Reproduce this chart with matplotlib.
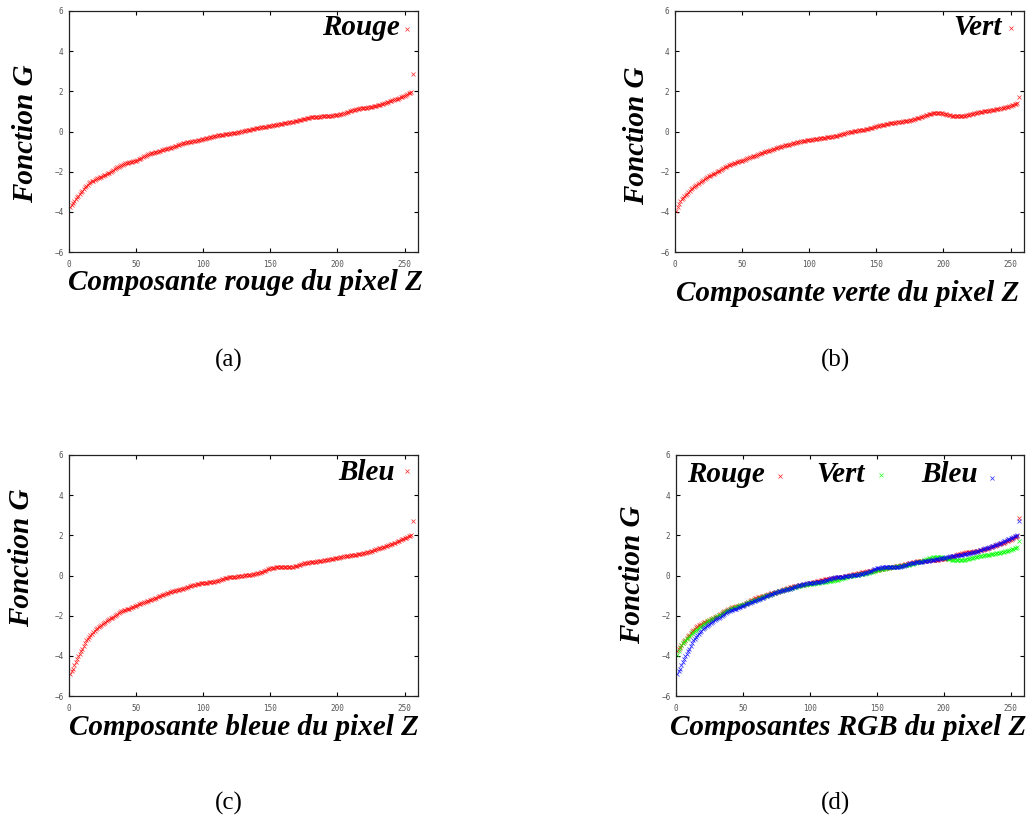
import numpy as np
import matplotlib
matplotlib.use('Agg')
import matplotlib.pyplot as plt

# ============ DATA ============
# pixel values 1..256 (the last one is the isolated point at the right edge)
x_vals = list(range(1, 257))

g_rouge = [
    -3.74, -3.64, -3.55, -3.45, -3.36, -3.27, -3.19, -3.10, -3.02, -2.94,
    -2.86, -2.78, -2.71, -2.64, -2.57, -2.52, -2.48, -2.44, -2.40, -2.36,
    -2.33, -2.30, -2.28, -2.25, -2.23, -2.19, -2.16, -2.12, -2.09, -2.05,
    -2.01, -1.96, -1.92, -1.87, -1.83, -1.79, -1.75, -1.71, -1.68, -1.65,
    -1.62, -1.59, -1.57, -1.55, -1.53, -1.51, -1.50, -1.48, -1.47, -1.45,
    -1.42, -1.38, -1.35, -1.31, -1.28, -1.24, -1.21, -1.17, -1.14, -1.11,
    -1.09, -1.07, -1.06, -1.04, -1.03, -1.00, -0.98, -0.95, -0.93, -0.91,
    -0.89, -0.87, -0.86, -0.84, -0.83, -0.80, -0.78, -0.75, -0.73, -0.71,
    -0.68, -0.66, -0.63, -0.61, -0.58, -0.56, -0.55, -0.53, -0.52, -0.51,
    -0.50, -0.48, -0.47, -0.46, -0.45, -0.43, -0.42, -0.40, -0.39, -0.37,
    -0.35, -0.33, -0.32, -0.30, -0.28, -0.26, -0.25, -0.23, -0.21, -0.20,
    -0.19, -0.18, -0.17, -0.16, -0.15, -0.14, -0.13, -0.12, -0.11, -0.10,
    -0.09, -0.08, -0.07, -0.06, -0.05, -0.03, -0.02, 0.00, 0.01, 0.02,
    0.03, 0.05, 0.06, 0.07, 0.08, 0.10, 0.12, 0.14, 0.15, 0.17,
    0.18, 0.19, 0.20, 0.21, 0.22, 0.23, 0.24, 0.25, 0.26, 0.27,
    0.28, 0.30, 0.31, 0.32, 0.33, 0.35, 0.36, 0.38, 0.39, 0.40,
    0.41, 0.43, 0.44, 0.46, 0.47, 0.48, 0.49, 0.51, 0.52, 0.53,
    0.55, 0.57, 0.58, 0.60, 0.61, 0.63, 0.65, 0.67, 0.68, 0.70,
    0.71, 0.72, 0.72, 0.73, 0.73, 0.74, 0.74, 0.75, 0.75, 0.75,
    0.76, 0.77, 0.77, 0.78, 0.78, 0.79, 0.80, 0.81, 0.82, 0.83,
    0.84, 0.86, 0.87, 0.88, 0.90, 0.92, 0.95, 0.98, 1.00, 1.03,
    1.05, 1.07, 1.09, 1.11, 1.13, 1.14, 1.15, 1.16, 1.17, 1.18,
    1.19, 1.19, 1.20, 1.21, 1.21, 1.23, 1.25, 1.26, 1.28, 1.30,
    1.32, 1.34, 1.36, 1.38, 1.41, 1.43, 1.46, 1.48, 1.51, 1.53,
    1.55, 1.57, 1.60, 1.62, 1.64, 1.67, 1.70, 1.73, 1.76, 1.79,
    1.82, 1.86, 1.90, 1.94, 1.98, 2.85]

g_vert = [
    -3.97, -3.78, -3.60, -3.47, -3.36, -3.29, -3.22, -3.15, -3.09, -3.02,
    -2.95, -2.88, -2.82, -2.75, -2.69, -2.64, -2.59, -2.54, -2.49, -2.44,
    -2.40, -2.36, -2.32, -2.28, -2.24, -2.20, -2.17, -2.14, -2.11, -2.08,
    -2.04, -1.99, -1.95, -1.90, -1.86, -1.82, -1.79, -1.75, -1.72, -1.69,
    -1.66, -1.63, -1.61, -1.58, -1.56, -1.54, -1.52, -1.49, -1.47, -1.45,
    -1.42, -1.40, -1.37, -1.34, -1.31, -1.29, -1.27, -1.24, -1.22, -1.20,
    -1.17, -1.14, -1.11, -1.08, -1.06, -1.04, -1.02, -0.99, -0.97, -0.95,
    -0.93, -0.90, -0.88, -0.85, -0.83, -0.81, -0.79, -0.77, -0.75, -0.73,
    -0.71, -0.69, -0.68, -0.66, -0.65, -0.63, -0.61, -0.59, -0.58, -0.56,
    -0.54, -0.52, -0.51, -0.49, -0.48, -0.47, -0.46, -0.44, -0.43, -0.42,
    -0.41, -0.40, -0.39, -0.38, -0.37, -0.36, -0.35, -0.34, -0.33, -0.32,
    -0.31, -0.30, -0.29, -0.28, -0.27, -0.26, -0.25, -0.24, -0.23, -0.22,
    -0.20, -0.18, -0.16, -0.14, -0.12, -0.10, -0.08, -0.06, -0.04, -0.02,
    -0.01, 0.00, 0.01, 0.02, 0.03, 0.04, 0.05, 0.06, 0.07, 0.08,
    0.09, 0.10, 0.12, 0.13, 0.15, 0.17, 0.19, 0.21, 0.23, 0.25,
    0.27, 0.28, 0.30, 0.31, 0.33, 0.34, 0.36, 0.37, 0.39, 0.40,
    0.41, 0.42, 0.43, 0.44, 0.45, 0.46, 0.47, 0.48, 0.49, 0.50,
    0.51, 0.52, 0.53, 0.54, 0.55, 0.57, 0.59, 0.61, 0.63, 0.65,
    0.67, 0.69, 0.71, 0.73, 0.76, 0.78, 0.81, 0.83, 0.86, 0.88,
    0.89, 0.91, 0.92, 0.93, 0.93, 0.93, 0.92, 0.91, 0.90, 0.88,
    0.86, 0.85, 0.83, 0.81, 0.80, 0.79, 0.78, 0.77, 0.76, 0.76,
    0.76, 0.76, 0.77, 0.77, 0.78, 0.79, 0.81, 0.82, 0.84, 0.86,
    0.87, 0.89, 0.90, 0.92, 0.93, 0.95, 0.96, 0.98, 0.99, 1.00,
    1.01, 1.02, 1.03, 1.04, 1.05, 1.06, 1.07, 1.08, 1.10, 1.11,
    1.12, 1.13, 1.15, 1.16, 1.18, 1.20, 1.22, 1.24, 1.26, 1.28,
    1.31, 1.33, 1.36, 1.39, 1.43, 1.72]

g_bleu = [
    -4.89, -4.77, -4.64, -4.47, -4.30, -4.16, -4.02, -3.89, -3.77, -3.64,
    -3.50, -3.36, -3.22, -3.14, -3.06, -2.97, -2.89, -2.81, -2.74, -2.68,
    -2.63, -2.58, -2.53, -2.48, -2.43, -2.38, -2.33, -2.28, -2.24, -2.19,
    -2.14, -2.10, -2.05, -2.01, -1.96, -1.91, -1.87, -1.83, -1.79, -1.76,
    -1.74, -1.71, -1.69, -1.67, -1.65, -1.62, -1.59, -1.56, -1.53, -1.50,
    -1.47, -1.44, -1.41, -1.39, -1.36, -1.33, -1.31, -1.28, -1.26, -1.23,
    -1.20, -1.18, -1.15, -1.13, -1.10, -1.07, -1.04, -1.01, -0.98, -0.95,
    -0.93, -0.90, -0.88, -0.85, -0.83, -0.81, -0.79, -0.77, -0.75, -0.73,
    -0.71, -0.70, -0.68, -0.67, -0.65, -0.62, -0.60, -0.57, -0.55, -0.53,
    -0.51, -0.49, -0.47, -0.45, -0.43, -0.42, -0.41, -0.39, -0.38, -0.37,
    -0.36, -0.35, -0.35, -0.34, -0.33, -0.32, -0.31, -0.30, -0.29, -0.27,
    -0.25, -0.22, -0.20, -0.17, -0.15, -0.13, -0.12, -0.10, -0.09, -0.08,
    -0.07, -0.06, -0.06, -0.05, -0.05, -0.04, -0.03, -0.02, -0.01, 0.00,
    0.01, 0.01, 0.02, 0.02, 0.03, 0.04, 0.06, 0.07, 0.08, 0.10,
    0.12, 0.14, 0.17, 0.19, 0.22, 0.24, 0.27, 0.30, 0.32, 0.35,
    0.36, 0.38, 0.39, 0.41, 0.42, 0.42, 0.43, 0.43, 0.43, 0.43,
    0.43, 0.42, 0.42, 0.42, 0.42, 0.43, 0.44, 0.45, 0.46, 0.48,
    0.51, 0.53, 0.56, 0.58, 0.60, 0.62, 0.63, 0.64, 0.65, 0.66,
    0.67, 0.68, 0.68, 0.69, 0.70, 0.71, 0.72, 0.73, 0.74, 0.75,
    0.76, 0.77, 0.79, 0.80, 0.81, 0.82, 0.84, 0.85, 0.87, 0.88,
    0.89, 0.91, 0.92, 0.94, 0.95, 0.96, 0.97, 0.98, 0.99, 1.00,
    1.01, 1.02, 1.03, 1.04, 1.05, 1.06, 1.07, 1.08, 1.10, 1.11,
    1.13, 1.15, 1.17, 1.19, 1.21, 1.23, 1.26, 1.28, 1.31, 1.33,
    1.35, 1.37, 1.39, 1.41, 1.43, 1.45, 1.48, 1.50, 1.53, 1.55,
    1.58, 1.61, 1.64, 1.67, 1.70, 1.73, 1.76, 1.80, 1.83, 1.86,
    1.89, 1.92, 1.95, 1.98, 2.00, 2.72]

x_ticks = [0, 50, 100, 150, 200, 250]
y_ticks = [-6, -4, -2, 0, 2, 4, 6]

# ============ STYLE ============
W, H = 1033, 819
serif_bi = dict(family='Liberation Serif', weight='bold', style='italic')
ms, mew = 2.4, 0.55


def px_axes(fig, left, top, right, bottom):
    return fig.add_axes([left / W, 1 - bottom / H, (right - left) / W, (bottom - top) / H])


def style_axes(ax):
    ax.set_xlim(0, 260)
    ax.set_ylim(-6, 6)
    ax.set_xticks(x_ticks)
    ax.set_yticks(y_ticks)
    ax.tick_params(direction='in', length=3, width=0.8, top=True, right=True,
                   labelsize=5.5, labelcolor='#555555', pad=4)
    ax.tick_params(axis='x', pad=6)
    for lab in ax.get_xticklabels() + ax.get_yticklabels():
        lab.set_family('DejaVu Sans Mono')
    for sp in ax.spines.values():
        sp.set_linewidth(0.9)
        sp.set_color('#222222')


def plot_series(ax, yv, color):
    ax.plot(x_vals, yv, linestyle='none', marker='x',
            ms=ms, mew=mew, color=color, alpha=0.8)


def key(ax, label, tx, mx, ty, my, color):
    ax.text(tx, ty, label, transform=ax.transAxes, ha='right', va='baseline',
            fontsize=21, **serif_bi)
    ax.plot([mx], [my], transform=ax.transAxes, marker='x', ms=ms, mew=mew,
            color=color, linestyle='none', clip_on=False, alpha=0.8)


fig = plt.figure(figsize=(W / 100, H / 100), dpi=100)

# (a)
ax_a = px_axes(fig, 69, 11, 418, 252)
plot_series(ax_a, g_rouge, 'red')
key(ax_a, 'Rouge', 0.948, 0.968, 0.900, 0.927, 'red')
style_axes(ax_a)

# (b)
ax_b = px_axes(fig, 675, 11, 1024, 252)
plot_series(ax_b, g_vert, 'red')
key(ax_b, 'Vert', 0.937, 0.963, 0.900, 0.930, 'red')
style_axes(ax_b)

# (c)
ax_c = px_axes(fig, 69, 455, 418, 696)
plot_series(ax_c, g_bleu, 'red')
key(ax_c, 'Bleu', 0.934, 0.969, 0.896, 0.935, 'red')
style_axes(ax_c)

# (d)
ax_d = px_axes(fig, 676, 455, 1024, 696)
plot_series(ax_d, g_rouge, '#ff0000')
plot_series(ax_d, g_vert, '#00ff00')
plot_series(ax_d, g_bleu, '#0000ff')
key(ax_d, 'Rouge', 0.256, 0.299, 0.889, 0.913, '#ff0000')
key(ax_d, 'Vert', 0.543, 0.589, 0.889, 0.915, '#00ff00')
key(ax_d, 'Bleu', 0.868, 0.908, 0.889, 0.904, '#0000ff')
style_axes(ax_d)

# axis labels, placed in figure pixels
xlabels = [('Composante rouge du pixel Z', 245, 290),
           ('Composante verte du pixel Z', 848, 301),
           ('Composante bleue du pixel Z', 244, 735),
           ('Composantes RGB du pixel Z', 848, 735)]
for txt, cx, base in xlabels:
    fig.text(cx / W, 1 - base / H, txt, ha='center', va='baseline', fontsize=21, **serif_bi)

ylabels = [(26, 134), (637, 136), (22, 558), (633, 575)]
for cx, cy in ylabels:
    fig.text(cx / W, 1 - cy / H, 'Fonction G', rotation=90, ha='center', va='center',
             fontsize=21, **serif_bi)

captions = [('(a)', 229, 360), ('(b)', 835, 360), ('(c)', 229, 803), ('(d)', 835, 803)]
for txt, cx, cy in captions:
    fig.text(cx / W, 1 - cy / H, txt, ha='center', va='center', fontsize=18,
             family='Liberation Serif')

fig.savefig('out.png', dpi=100)
